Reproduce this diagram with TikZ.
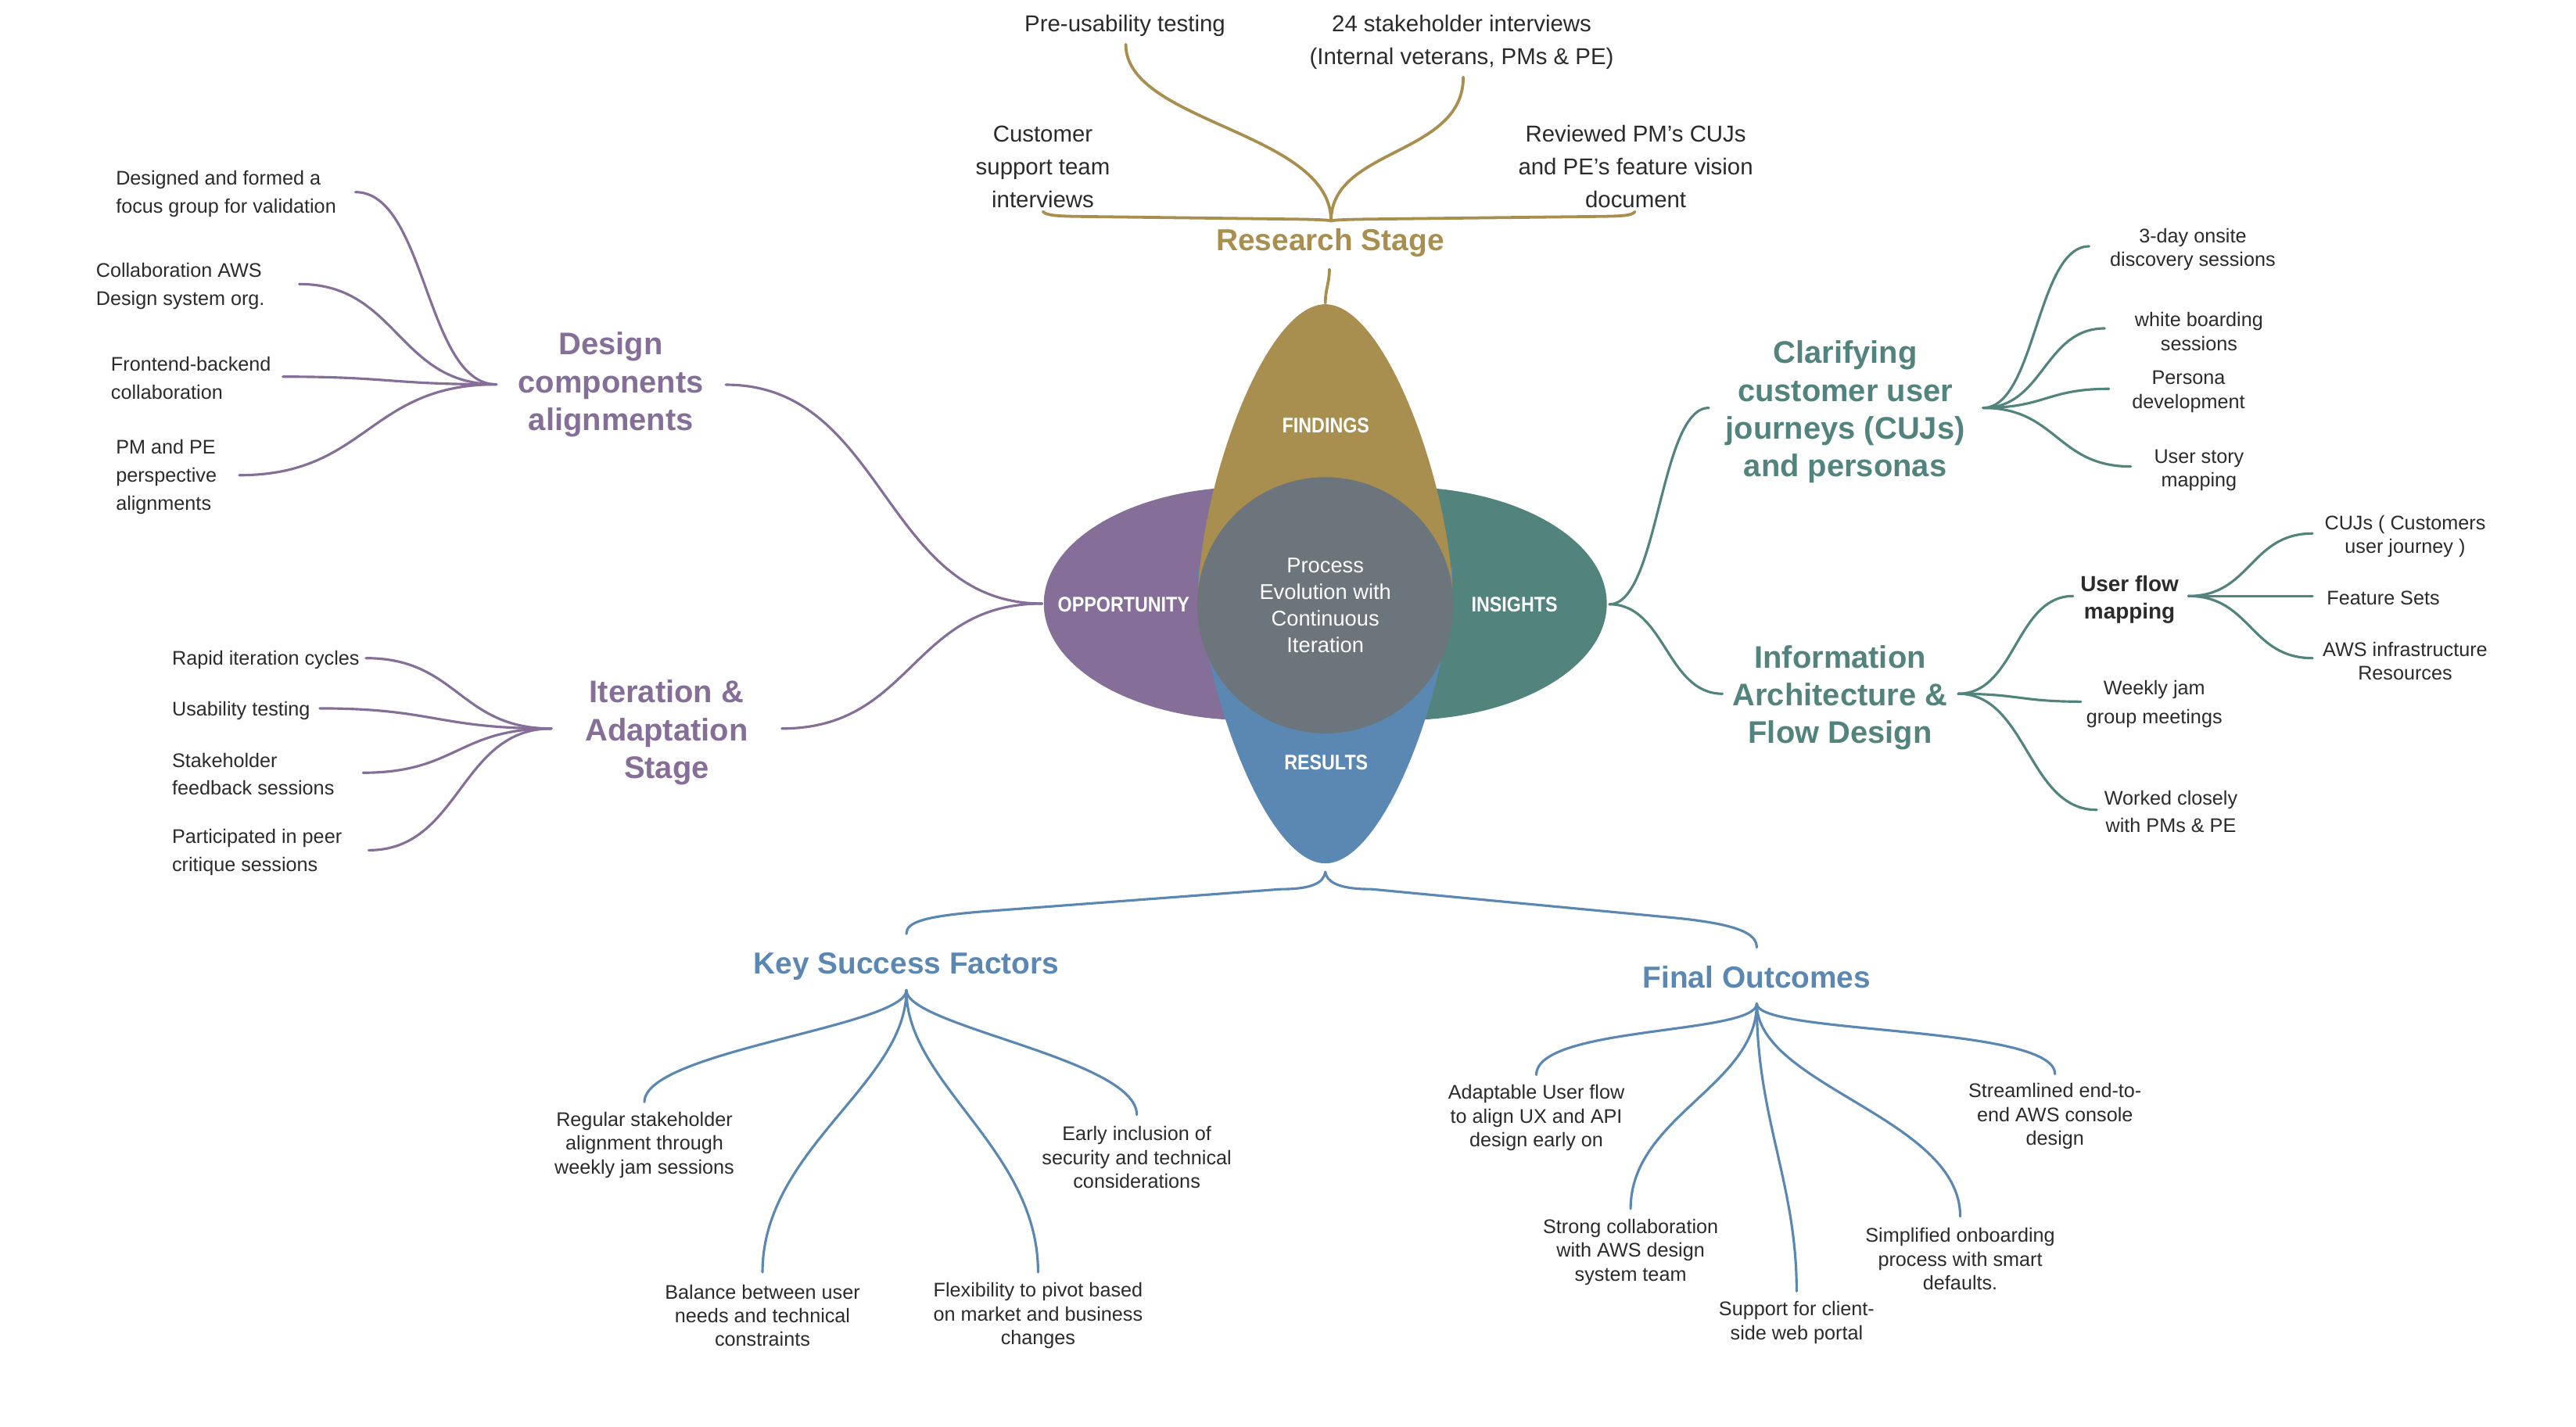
\documentclass[tikz,border=0pt]{standalone}
\usepackage{fontspec}
\setmainfont{Liberation Sans}
\newfontfamily\condfont[FakeStretch=0.86]{Liberation Sans}
\definecolor{cgold}{HTML}{A88F50}
\definecolor{cpur}{HTML}{856E98}
\definecolor{cteal}{HTML}{52837D}
\definecolor{cblue}{HTML}{5B88B2}
\definecolor{cgray}{HTML}{6C747C}
\definecolor{ctext}{HTML}{2B2B2B}
\begin{document}
\begin{tikzpicture}[x=1pt,y=-1pt,
  sm/.style={font=\fontsize{12}{14.5}\selectfont,text=ctext,inner sep=0pt,align=center,yshift=-1pt},
  smL/.style={font=\fontsize{12}{17}\selectfont,text=ctext,inner sep=0pt,align=left,anchor=west,yshift=-1pt},
  toplbl/.style={font=\fontsize{14}{20}\selectfont,text=ctext,inner sep=0pt,align=center,yshift=-1.5pt},
  ttl/.style={font=\fontsize{19}{23}\selectfont\bfseries,inner sep=0pt,align=center,yshift=-1.8pt},
  ttlb/.style={font=\fontsize{18.5}{22}\selectfont\bfseries,inner sep=0pt,align=center,yshift=-1pt},
  petal/.style={font=\condfont\fontsize{12.9}{15}\selectfont\bfseries,text=white,inner sep=0pt},
  lnk/.style={line width=1.5pt,line cap=round},
  glnk/.style={line width=1.8pt,line cap=round,draw=cgold},
  plnk/.style={lnk,draw=cpur},
  tlnk/.style={lnk,draw=cteal},
  blnk/.style={lnk,draw=cblue},
]
\useasboundingbox (0,0) rectangle (1568.57,869.05);
\fill[white] (0,0) rectangle (1568.57,869.05);

% ---------- central petals ----------
\fill[cpur] (760,367.6) ellipse [x radius=124.4pt, y radius=71pt];
\fill[cteal] (854,367.6) ellipse [x radius=124.4pt, y radius=71pt];
\fill[cblue] (729.5,346) .. controls (729.5,411) and (769.5,525.8) .. (807,525.8)
  .. controls (844.5,525.8) and (884.5,411) .. (884.5,346) -- cycle;
\fill[cgold] (729.5,366) .. controls (729.5,300) and (769.5,185.3) .. (807,185.3)
  .. controls (844.5,185.3) and (884.5,300) .. (884.5,366) -- cycle;
\node[circle,fill=cgray,minimum size=156pt,inner sep=0pt,text=white,align=center,
  font=\fontsize{13}{16.2}\selectfont] (core) at (807,368.6)
  {Process\\Evolution with\\Continuous\\Iteration};
\node[petal] (findings) at (807.3,259) {FINDINGS};
\node[petal] (opp) at (684.2,368) {OPPORTUNITY};
\node[petal] (ins) at (922.2,368) {INSIGHTS};
\node[petal] (res) at (807.5,464.6) {RESULTS};

% ---------- research stage ----------
\node[toplbl] (pre) at (685,14) {Pre-usability testing};
\node[toplbl] (stk) at (890,24) {24 stakeholder interviews\\(Internal veterans, PMs \& PE)};
\node[toplbl] (cust) at (635,100) {Customer\\support team\\interviews};
\node[toplbl] (rev) at (996,100) {Reviewed PM’s CUJs\\and PE’s feature vision\\document};
\node[ttlb,text=cgold] (rs) at (810,147) {Research Stage};
\coordinate (preE) at (685.5,27);
\coordinate (stkE) at (891,47);
\coordinate (rsN) at (810.5,134.5);
\coordinate (braceL) at (635.1,128.9);
\coordinate (braceR) at (995.5,128.9);
\coordinate (rsS) at (809.5,164);
\coordinate (fTop) at (807,184.5);
\draw[glnk] (preE) .. controls +(0,48) and +(0,-54.5) .. (rsN);
\draw[glnk] (stkE) .. controls +(0,48) and +(0,-44.5) .. (rsN);
\draw[glnk] (braceL) .. controls +(2,2.6) and +(-8,-0.2) .. (655,131.8) -- (790,133.5)
  .. controls +(12,0.2) and +(-1.5,-0.5) .. (rsN);
\draw[glnk] (rsN) .. controls +(1.5,-0.5) and +(-12,0.2) .. (831,133.5) -- (975,131.8)
  .. controls +(11,-0.2) and +(-1.5,2.6) .. (braceR);
\draw[glnk] (rsS) .. controls +(0,8) and +(0,-8) .. (fTop);

% ---------- design components ----------
\node[ttl,text=cpur] (dca) at (372,232.5) {Design\\components\\alignments};
\coordinate (dcaR) at (442,234.3);
\coordinate (oT) at (634.5,367.6);
\coordinate (hD) at (302.2,234.1);
\draw[plnk] (dcaR) .. controls +(97,0) and +(-97,0) .. (oT);
\node[smL] (d1) at (70.4,117.05) {Designed and formed a\\focus group for validation};
\node[smL] (d2) at (58.3,173.2) {Collaboration AWS\\Design system org.};
\node[smL] (d3) at (67.4,229.35) {Frontend-backend\\collaboration};
\node[smL] (d4) at (70.4,289.4) {PM and PE\\perspective\\alignments};
\coordinate (d1e) at (216.5,117);
\coordinate (d2e) at (182.2,173);
\coordinate (d3e) at (172.2,229.4);
\coordinate (d4e) at (145.7,289.4);
\draw[plnk] (d1e) .. controls +(43,0) and +(-43,0) .. (hD);
\draw[plnk] (d2e) .. controls +(60,0) and +(-60,0) .. (hD);
\draw[plnk] (d3e) .. controls +(65,0) and +(-65,0) .. (hD);
\draw[plnk] (d4e) .. controls +(78,0) and +(-78,0) .. (hD);

% ---------- iteration ----------
\node[ttl,text=cpur] (ias) at (405.9,444.4) {Iteration \&\\Adaptation\\Stage};
\coordinate (iasR) at (476,443.7);
\coordinate (hI) at (335.7,443.7);
\draw[plnk] (iasR) .. controls +(80,0) and +(-80,0) .. (oT);
\node[smL] (i1) at (104.6,400.8) {Rapid iteration cycles};
\node[smL] (i2) at (104.6,431.7) {Usability testing};
\node[smL] (i3) at (104.6,470.45) {Stakeholder\\feedback sessions};
\node[smL] (i4) at (104.6,518.1) {Participated in peer\\critique sessions};
\coordinate (i1e) at (222.8,400.8);
\coordinate (i2e) at (194.7,431.4);
\coordinate (i3e) at (221.1,470.6);
\coordinate (i4e) at (224.5,517.8);
\draw[plnk] (i1e) .. controls +(56,0) and +(-56,0) .. (hI);
\draw[plnk] (i2e) .. controls +(70,0) and +(-70,0) .. (hI);
\draw[plnk] (i3e) .. controls +(57,0) and +(-57,0) .. (hI);
\draw[plnk] (i4e) .. controls +(56,0) and +(-56,0) .. (hI);

% ---------- clarifying CUJs ----------
\coordinate (iT) at (980,368);
\node[ttl,text=cteal] (cuj) at (1123.6,249.2) {Clarifying\\customer user\\journeys (CUJs)\\and personas};
\coordinate (cujL) at (1040.5,248.4);
\coordinate (hC) at (1207.5,248.4);
\draw[tlnk] (iT) .. controls +(30,0) and +(-30,0) .. (cujL);
\node[sm] (c1) at (1335.2,150.85) {3-day onsite\\discovery sessions};
\node[sm] (c2) at (1339,200.85) {white boarding\\sessions};
\node[sm] (c3) at (1332.6,237.5) {Persona\\development};
\node[sm] (c4) at (1339,285.35) {User story\\mapping};
\coordinate (c1e) at (1272.1,150);
\coordinate (c2e) at (1281.6,200);
\coordinate (c3e) at (1284.2,236.8);
\coordinate (c4e) at (1297.4,284.1);
\draw[tlnk] (hC) .. controls +(32,0) and +(-32,0) .. (c1e);
\draw[tlnk] (hC) .. controls +(37,0) and +(-37,0) .. (c2e);
\draw[tlnk] (hC) .. controls +(38,0) and +(-38,0) .. (c3e);
\draw[tlnk] (hC) .. controls +(45,0) and +(-45,0) .. (c4e);

% ---------- information architecture ----------
\node[ttl,text=cteal] (iafd) at (1120.5,423) {Information\\Architecture \&\\Flow Design};
\coordinate (iaL) at (1048.8,422.5);
\coordinate (hA) at (1192.4,422.5);
\draw[tlnk] (iT) .. controls +(34,0) and +(-34,0) .. (iaL);
\node[font=\fontsize{13.3}{16.6}\selectfont\bfseries,text=ctext,align=center,inner sep=0pt,yshift=-1.2pt]
  (ufm) at (1296.7,363.9) {User flow\\mapping};
\node[font=\fontsize{12}{17.8}\selectfont,text=ctext,align=center,inner sep=0pt,yshift=-1pt]
  (a2) at (1311.8,427.9) {Weekly jam\\group meetings};
\node[font=\fontsize{12}{16.7}\selectfont,text=ctext,align=center,inner sep=0pt,yshift=-1pt]
  (a3) at (1321.9,493.25) {Worked closely\\with PMs \& PE};
\coordinate (ufL) at (1262.3,363);
\coordinate (a2e) at (1267.1,427.3);
\coordinate (a3e) at (1276.7,493.2);
\draw[tlnk] (hA) .. controls +(35,0) and +(-35,0) .. (ufL);
\draw[tlnk] (hA) .. controls +(37,0) and +(-37,0) .. (a2e);
\draw[tlnk] (hA) .. controls +(42,0) and +(-42,0) .. (a3e);
\coordinate (hU) at (1332.6,363);
\node[sm] (u1) at (1464.5,325.65) {CUJs ( Customers\\user journey )};
\node[sm] (u2) at (1451.2,363) {Feature Sets};
\node[sm] (u3) at (1464.5,401.7) {AWS infrastructure\\Resources};
\coordinate (u1e) at (1408.1,324.9);
\coordinate (u2e) at (1408.1,363);
\coordinate (u3e) at (1408.1,400.8);
\draw[tlnk] (hU) .. controls +(38,0) and +(-38,0) .. (u1e);
\draw[tlnk] (hU) -- (u2e);
\draw[tlnk] (hU) .. controls +(38,0) and +(-38,0) .. (u3e);

% ---------- bottom brace ----------
\coordinate (rB) at (807,531);
\coordinate (kT) at (551.9,568.7);
\coordinate (foT) at (1069.7,577);
\draw[blnk] (rB) .. controls +(-1,7) and +(18,0) .. (780,541.5) -- (600,555)
  .. controls +(-38,3) and +(0,-7) .. (kT);
\draw[blnk] (rB) .. controls +(1,7) and +(-18,0) .. (835,541.5) -- (1020,559)
  .. controls +(40,4) and +(0,-8) .. (foT);

% ---------- key success factors ----------
\node[ttlb,text=cblue] (ksf) at (551.9,587.6) {Key Success Factors};
\coordinate (hK) at (551.9,603);
\node[sm] (k1) at (392.4,696.2) {Regular stakeholder\\alignment through\\weekly jam sessions};
\node[sm] (k2) at (464.3,800.2) {Balance between user\\needs and technical\\constraints};
\node[sm] (k3) at (632.1,800.2) {Flexibility to pivot based\\on market and business\\changes};
\node[sm] (k4) at (692.2,703.9) {Early inclusion of\\security and technical\\considerations};
\coordinate (k1e) at (392.4,671.1);
\coordinate (k2e) at (464.3,774.8);
\coordinate (k3e) at (632.1,774.8);
\coordinate (k4e) at (692.2,678.9);
\draw[blnk] (hK) .. controls +(0,22) and +(0,-31) .. (k1e);
\draw[blnk] (hK) .. controls +(0,57) and +(0,-75) .. (k2e);
\draw[blnk] (hK) .. controls +(0,57) and +(0,-75) .. (k3e);
\draw[blnk] (hK) .. controls +(0,22) and +(0,-34) .. (k4e);

% ---------- final outcomes ----------
\node[ttlb,text=cblue] (fo) at (1069.7,594.2) {Final Outcomes};
\coordinate (hF) at (1069.7,611.2);
\node[sm] (f1) at (935.5,679.9) {Adaptable User flow\\to align UX and API\\design early on};
\node[sm] (f2) at (992.9,761.5) {Strong collaboration\\with AWS design\\system team};
\node[sm] (f3) at (1094,804.4) {Support for client-\\side web portal};
\node[sm] (f4) at (1193.6,765.7) {Simplified onboarding\\process with smart\\defaults.};
\node[sm] (f5) at (1251.3,678.9) {Streamlined end-to-\\end AWS console\\design};
\coordinate (f1e) at (935.5,654.6);
\coordinate (f2e) at (992.9,736.2);
\coordinate (f3e) at (1094,786.4);
\coordinate (f4e) at (1193.6,740.8);
\coordinate (f5e) at (1251.3,654.1);
\draw[blnk] (hF) .. controls +(0,19) and +(0,-30) .. (f1e);
\draw[blnk] (hF) .. controls +(0,50) and +(0,-56) .. (f2e);
\draw[blnk] (hF) .. controls +(0,70) and +(0,-66) .. (f3e);
\draw[blnk] (hF) .. controls +(0,50) and +(0,-60) .. (f4e);
\draw[blnk] (hF) .. controls +(0,19) and +(0,-30) .. (f5e);
\end{tikzpicture}
\end{document}
